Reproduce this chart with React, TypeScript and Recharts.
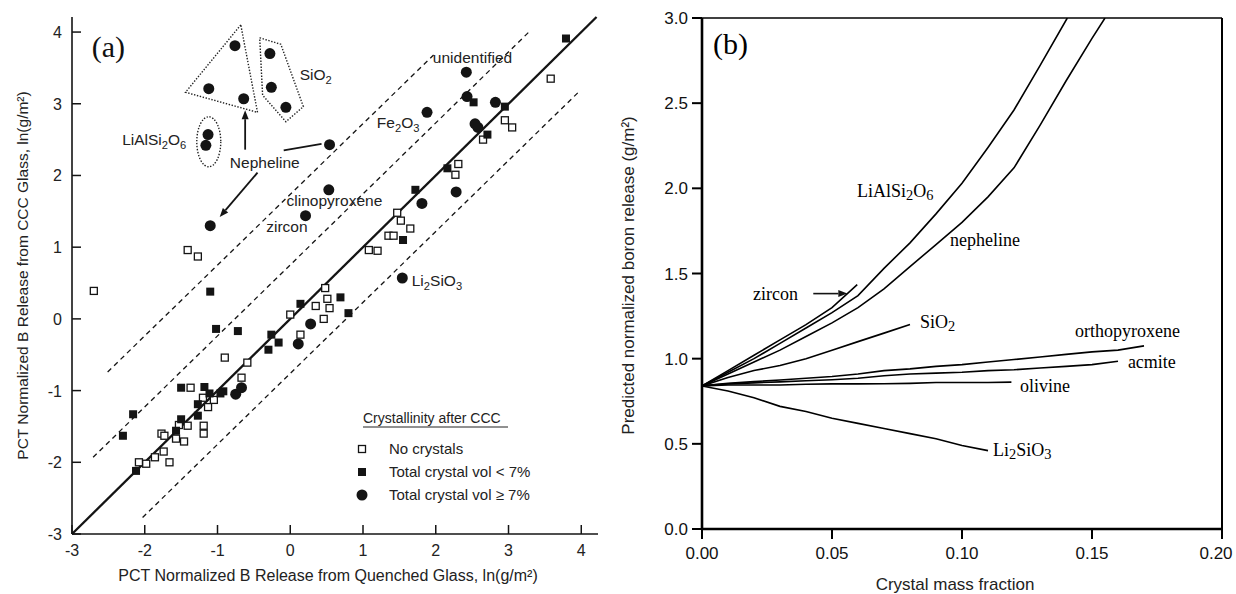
import React from 'react';
import {
  ScatterChart, Scatter, LineChart, Line, XAxis, YAxis,
  ReferenceLine, ReferenceDot, Legend,
} from 'recharts';

document.body.style.margin = '0';

const SANS = '"Liberation Sans", Arial, Helvetica, sans-serif';
const SERIF = '"Liberation Serif", "Times New Roman", serif';
const INK = '#141414';

// ---------- panel (a): PCT quenched vs CCC ----------
const ticksA = [-3, -2, -1, 0, 1, 2, 3, 4];

const noCrystals: [number, number][] = [
  [-2.70, 0.39], [-1.41, 0.96], [-1.27, 0.87], [-0.90, -0.54], [-0.59, -0.61],
  [-1.37, -0.96], [-1.20, -1.10], [-1.05, -1.13], [-1.13, -1.23], [-0.67, -0.82],
  [-1.41, -1.49], [-1.53, -1.48], [-1.19, -1.49], [-1.19, -1.60], [-1.77, -1.60],
  [-1.73, -1.63], [-1.57, -1.67], [-1.46, -1.71], [-1.74, -1.85], [-1.86, -1.93],
  [-1.66, -2.00], [-2.08, -2.00], [-1.98, -2.02], [0.00, 0.06], [0.14, -0.22],
  [0.35, 0.18], [0.46, 0.00], [0.48, 0.43], [0.51, 0.28], [0.54, 0.15],
  [1.08, 0.96], [1.20, 0.95], [1.35, 1.16], [1.42, 1.16], [1.47, 1.48],
  [1.52, 1.37], [1.65, 1.26], [2.27, 2.01], [2.31, 2.16], [2.65, 2.50],
  [2.95, 2.77], [3.05, 2.67], [3.58, 3.35],
];
const lowCrystal: [number, number][] = [
  [-1.10, 0.38], [-1.02, -0.14], [-0.72, -0.17], [-0.26, -0.22], [-0.16, -0.33],
  [-0.30, -0.43], [-1.50, -0.96], [-1.18, -0.95], [-1.11, -1.04], [-0.96, -1.04],
  [-0.92, -1.01], [-1.27, -1.19], [-1.27, -1.35], [-1.50, -1.40], [-1.57, -1.56],
  [-2.12, -2.12], [-2.16, -1.33], [-2.30, -1.63], [0.14, 0.21], [0.69, 0.30],
  [0.80, 0.08], [1.55, 1.10], [1.72, 1.80], [2.16, 2.10], [2.52, 3.02],
  [2.95, 2.96], [2.71, 2.57], [3.79, 3.91],
];
const highCrystal: [number, number][] = [
  [-0.76, 3.81], [-1.12, 3.21], [-0.64, 3.07], [-0.28, 3.70], [-0.26, 3.23],
  [-0.06, 2.95], [-1.13, 2.57], [-1.16, 2.42], [-1.10, 1.30], [0.54, 2.43],
  [0.53, 1.80], [0.21, 1.44], [2.42, 3.44], [2.43, 3.10], [2.82, 3.02],
  [1.88, 2.88], [2.54, 2.72], [2.58, 2.67], [2.28, 1.77], [1.81, 1.61],
  [1.54, 0.57], [0.28, -0.07], [0.11, -0.35], [-0.75, -1.05], [-0.67, -0.96],
];

const parityLine: [number, number][] = [[-3, -3], [4.21, 4.21]];
const dashedLines: [number, number][][] = [
  [[-2.51, -0.74], [1.97, 3.68]],
  [[-2.71, -1.93], [3.30, 4.02]],
  [[-2.03, -2.77], [3.97, 3.17]],
];
const nephelineGroup: [number, number][] = [[-0.68, 4.10], [-1.44, 3.16], [-0.45, 2.88], [-0.68, 4.10]];
const silicaGroup: [number, number][] = [[-0.42, 3.92], [-0.13, 3.83], [0.18, 2.96], [-0.06, 2.75], [-0.38, 3.12], [-0.42, 3.92]];
const lialsiGroup: [number, number] = [-1.12, 2.47];

const arrowsA: { from: [number, number]; to: [number, number]; head: boolean }[] = [
  { from: [-0.62, 2.36], to: [-0.62, 2.91], head: true },
  { from: [-0.09, 2.35], to: [0.43, 2.44], head: false },
  { from: [-0.45, 2.04], to: [-0.97, 1.42], head: true },
];
const labelsA: { x: number; y: number; text: string }[] = [
  { x: 0.13, y: 3.33, text: 'SiO2' },
  { x: 1.96, y: 3.57, text: 'unidentified' },
  { x: -2.31, y: 2.42, text: 'LiAlSi2O6' },
  { x: -0.83, y: 2.10, text: 'Nepheline' },
  { x: 1.19, y: 2.66, text: 'Fe2O3' },
  { x: -0.05, y: 1.57, text: 'clinopyroxene' },
  { x: -0.33, y: 1.21, text: 'zircon' },
  { x: 1.67, y: 0.46, text: 'Li2SiO3' },
];

// ---------- panel (b): predicted boron release ----------
const ticksBX = [0, 0.05, 0.1, 0.15, 0.2];
const ticksBY = [0, 0.5, 1, 1.5, 2, 2.5, 3];

const curveLiAlSi2O6: [number, number][] = [
  [0, 0.84], [0.01, 0.92], [0.02, 1.0], [0.03, 1.09], [0.04, 1.18], [0.05, 1.27], [0.06, 1.37],
  [0.07, 1.53], [0.08, 1.68], [0.09, 1.85], [0.1, 2.03], [0.11, 2.24], [0.12, 2.46], [0.13, 2.72], [0.1405, 3.0],
];
const curveNepheline: [number, number][] = [
  [0, 0.84], [0.01, 0.91], [0.02, 0.98], [0.03, 1.05], [0.04, 1.13], [0.05, 1.21], [0.06, 1.3],
  [0.07, 1.41], [0.08, 1.54], [0.09, 1.67], [0.1, 1.8], [0.11, 1.95], [0.12, 2.12], [0.13, 2.37],
  [0.14, 2.63], [0.15, 2.88], [0.155, 3.0],
];
const curveZircon: [number, number][] = [
  [0, 0.84], [0.01, 0.93], [0.02, 1.02], [0.03, 1.11], [0.04, 1.2], [0.05, 1.3], [0.0597, 1.435],
];
const curveSiO2: [number, number][] = [
  [0, 0.84], [0.01, 0.89], [0.02, 0.93], [0.03, 0.96], [0.04, 1.0], [0.05, 1.05], [0.06, 1.1], [0.07, 1.15], [0.08, 1.2],
];
const curveOrthopyroxene: [number, number][] = [
  [0, 0.84], [0.01, 0.855], [0.02, 0.865], [0.03, 0.875], [0.04, 0.885], [0.05, 0.895], [0.06, 0.91],
  [0.07, 0.93], [0.08, 0.94], [0.09, 0.955], [0.1, 0.965], [0.11, 0.98], [0.12, 0.995], [0.13, 1.01],
  [0.14, 1.025], [0.15, 1.04], [0.16, 1.05], [0.17, 1.075],
];
const curveAcmite: [number, number][] = [
  [0, 0.84], [0.01, 0.852], [0.02, 0.858], [0.03, 0.864], [0.04, 0.87], [0.05, 0.876], [0.06, 0.885],
  [0.07, 0.9], [0.08, 0.91], [0.09, 0.915], [0.1, 0.92], [0.11, 0.93], [0.12, 0.935], [0.13, 0.945],
  [0.14, 0.955], [0.15, 0.965], [0.16, 0.985],
];
const curveOlivine: [number, number][] = [
  [0, 0.84], [0.01, 0.845], [0.02, 0.845], [0.03, 0.845], [0.04, 0.85], [0.05, 0.852], [0.06, 0.852],
  [0.07, 0.853], [0.08, 0.855], [0.09, 0.86], [0.1, 0.86], [0.11, 0.86], [0.119, 0.862],
];
const curveLi2SiO3: [number, number][] = [
  [0, 0.84], [0.01, 0.81], [0.02, 0.77], [0.03, 0.72], [0.04, 0.69], [0.05, 0.65], [0.06, 0.62],
  [0.07, 0.59], [0.08, 0.56], [0.09, 0.53], [0.1, 0.49], [0.11, 0.46],
];
const curvesB = [
  { name: 'LiAlSi2O6', data: curveLiAlSi2O6 },
  { name: 'nepheline', data: curveNepheline },
  { name: 'zircon', data: curveZircon },
  { name: 'SiO2', data: curveSiO2 },
  { name: 'orthopyroxene', data: curveOrthopyroxene },
  { name: 'acmite', data: curveAcmite },
  { name: 'olivine', data: curveOlivine },
  { name: 'Li2SiO3', data: curveLi2SiO3 },
];
const labelsB: { x: number; y: number; text: string }[] = [
  { x: 0.0596, y: 1.95, text: 'LiAlSi2O6' },
  { x: 0.0954, y: 1.66, text: 'nepheline' },
  { x: 0.0196, y: 1.345, text: 'zircon' },
  { x: 0.0838, y: 1.18, text: 'SiO2' },
  { x: 0.1435, y: 1.127, text: 'orthopyroxene' },
  { x: 0.1638, y: 0.947, text: 'acmite' },
  { x: 0.1223, y: 0.805, text: 'olivine' },
  { x: 0.1119, y: 0.43, text: 'Li2SiO3' },
];
const zirconArrow: [number, number][] = [[0.0428, 1.382], [0.0559, 1.382]];

const toXY = (arr: [number, number][]) => arr.map(([x, y]) => ({ x, y }));

// chemical formula with subscripted digits
function chem(text: string, size: number, scale: number, shift: number) {
  const parts = text.split(/(\d+)/).filter(Boolean);
  let down = false;
  return parts.map((p, i) => {
    const isSub = /^\d+$/.test(p);
    let dy: number | undefined;
    if (isSub && !down) { dy = shift; down = true; }
    else if (!isSub && down) { dy = -shift; down = false; }
    return (
      <tspan key={i} dy={dy} fontSize={isSub ? size * scale : size}>{p}</tspan>
    );
  });
}

const openSquare = (p: any) => (
  <rect x={p.cx - 3.5} y={p.cy - 3.5} width={7} height={7} fill="#fff" stroke={INK} strokeWidth={1.3} />
);
const filledSquare = (p: any) => (
  <rect x={p.cx - 4} y={p.cy - 4} width={8} height={8} fill={INK} />
);
const filledCircle = (p: any) => <circle cx={p.cx} cy={p.cy} r={5.5} fill={INK} />;
const noShape = () => <g />;

const seriesA = [
  { name: 'No crystals', data: noCrystals, shape: openSquare },
  { name: 'Total crystal vol < 7%', data: lowCrystal, shape: filledSquare },
  { name: 'Total crystal vol \u2265 7%', data: highCrystal, shape: filledCircle },
];

const arrowShape = (head: boolean, width: number) => (p: any) => {
  const { x1, y1, x2, y2 } = p;
  const a = Math.atan2(y2 - y1, x2 - x1);
  const L = 9;
  const W = 3.5;
  const bx = x2 - L * Math.cos(a);
  const by = y2 - L * Math.sin(a);
  const pts = `${x2},${y2} ${bx + W * Math.sin(a)},${by - W * Math.cos(a)} ${bx - W * Math.sin(a)},${by + W * Math.cos(a)}`;
  return (
    <g>
      <line x1={x1} y1={y1} x2={head ? bx : x2} y2={head ? by : y2} stroke={INK} strokeWidth={width} />
      {head && <polygon points={pts} fill={INK} />}
    </g>
  );
};

// inward ticks for panel (a)
const tickBottomA = (p: any) => (
  <g>
    <line x1={p.x} y1={p.y} x2={p.x} y2={p.y - 9} stroke={INK} strokeWidth={1.5} />
    <text x={p.x} y={p.y + 22} textAnchor="middle" fontFamily={SANS} fontSize={16} fill="#222">{p.payload.value}</text>
  </g>
);
const tickLeftA = (p: any) => (
  <g>
    <line x1={p.x} y1={p.y} x2={p.x + 9} y2={p.y} stroke={INK} strokeWidth={1.5} />
    <text x={p.x - 10} y={p.y + 6} textAnchor="end" fontFamily={SANS} fontSize={16} fill="#222">{p.payload.value}</text>
  </g>
);
const tickTopA = (p: any) => (
  <line x1={p.x} y1={p.y} x2={p.x} y2={p.y + 8} stroke={INK} strokeWidth={1.5} />
);
const tickRightA = (p: any) => (
  <line x1={p.x} y1={p.y} x2={p.x - 8} y2={p.y} stroke={INK} strokeWidth={1.5} />
);

// bottom tick labels of panel (b); the last one is nudged left to stay on the page
const tickBottomB = (p: any) => {
  const last = p.payload.value === ticksBX[ticksBX.length - 1];
  return (
    <text x={last ? p.x - 6 : p.x} y={p.y} dy="0.71em" textAnchor="middle" fontFamily={SANS} fontSize={17} fill="#111">
      {Number(p.payload.value).toFixed(2)}
    </text>
  );
};

const AxisTitle = (props: any) => {
  const { viewBox, text, dx = 0, dy = 0, rotate, size, family } = props;
  const { x, y, width, height } = viewBox;
  if (rotate) {
    const cx = x + dx;
    const cy = y + height / 2 + dy;
    return (
      <text x={cx} y={cy} transform={`rotate(-90 ${cx} ${cy})`} textAnchor="middle" fontFamily={family} fontSize={size} fill="#222">{text}</text>
    );
  }
  return (
    <text x={x + width / 2 + dx} y={y + dy} textAnchor="middle" fontFamily={family} fontSize={size} fill="#222">{text}</text>
  );
};

const LegendA = () => (
  <svg width={220} height={112} style={{ overflow: 'visible', display: 'block' }}>
    <text x={13} y={23} fontFamily={SANS} fontSize={14} fill="#222">Crystallinity after CCC</text>
    <line x1={13} x2={158} y1={27} y2={27} stroke="#222" strokeWidth={1} />
    {seriesA.map((s, i) => {
      const base = 54 + i * 23;
      return (
        <g key={s.name}>
          {s.shape({ cx: 12, cy: base - 5 })}
          <text x={39} y={base} fontFamily={SANS} fontSize={15} fill="#222">{s.name}</text>
        </g>
      );
    })}
  </svg>
);

function PanelA() {
  const frame = { stroke: INK, strokeWidth: 1.6 };
  return (
    <ScatterChart width={620} height={594} margin={{ top: 17, right: 22, bottom: 30, left: 12 }}>
      <XAxis type="number" dataKey="x" domain={[-3, 4.23]} ticks={ticksA} interval={0} allowDataOverflow
        height={30} tickSize={0} tickMargin={0} tickLine={false} axisLine={frame} tick={tickBottomA}
        label={<AxisTitle text="PCT Normalized B Release from Quenched Glass, ln(g/m²)" dx={-7} dy={47} size={16} family={SANS} />} />
      <XAxis xAxisId="top" orientation="top" type="number" domain={[-3, 4.23]} ticks={ticksA} interval={0} allowDataOverflow
        height={0} tickSize={0} tickMargin={0} tickLine={false} axisLine={frame} tick={tickTopA} />
      <YAxis type="number" dataKey="y" domain={[-3, 4.21]} ticks={ticksA} interval={0} allowDataOverflow
        width={60} tickSize={0} tickMargin={0} tickLine={false} axisLine={frame} tick={tickLeftA}
        label={<AxisTitle text="PCT Normalized B Release from CCC Glass, ln(g/m²)" rotate dx={16} dy={0} size={15.5} family={SANS} />} />
      <YAxis yAxisId="right" orientation="right" type="number" domain={[-3, 4.21]} ticks={ticksA} interval={0} allowDataOverflow
        width={0} tickSize={0} tickMargin={0} tickLine={false} axisLine={frame} tick={tickRightA} />

      {dashedLines.map((seg, i) => (
        <ReferenceLine key={'d' + i} segment={toXY(seg)} stroke={INK} strokeWidth={1.3} strokeDasharray="5 4" ifOverflow="visible" />
      ))}
      <ReferenceLine segment={toXY(parityLine)} stroke={INK} strokeWidth={2.3} ifOverflow="visible" />

      <Scatter data={toXY(nephelineGroup)} line={{ stroke: '#222', strokeWidth: 1.4, strokeDasharray: '1.4 1.6' }}
        shape={noShape} legendType="none" isAnimationActive={false} />
      <Scatter data={toXY(silicaGroup)} line={{ stroke: '#222', strokeWidth: 1.4, strokeDasharray: '1.4 1.6' }}
        shape={noShape} legendType="none" isAnimationActive={false} />
      <ReferenceDot x={lialsiGroup[0]} y={lialsiGroup[1]} r={0} ifOverflow="visible"
        shape={(p: any) => <ellipse cx={p.cx} cy={p.cy} rx={12} ry={25} fill="none" stroke="#222" strokeWidth={1.4} strokeDasharray="1.4 1.6" />} />

      {arrowsA.map((a, i) => (
        <ReferenceLine key={'a' + i} segment={[{ x: a.from[0], y: a.from[1] }, { x: a.to[0], y: a.to[1] }]}
          ifOverflow="visible" shape={arrowShape(a.head, 1.8)} />
      ))}

      {seriesA.map((s) => (
        <Scatter key={s.name} name={s.name} data={toXY(s.data)} shape={s.shape} isAnimationActive={false} />
      ))}

      {labelsA.map((l) => (
        <ReferenceDot key={l.text} x={l.x} y={l.y} r={0} ifOverflow="visible"
          shape={(p: any) => (
            <text x={p.cx} y={p.cy} fontFamily={SANS} fontSize={15.5} fill="#222">{chem(l.text, 15.5, 0.72, 4)}</text>
          )} />
      ))}
      <ReferenceDot x={-2.73} y={3.65} r={0} ifOverflow="visible"
        shape={(p: any) => <text x={p.cx} y={p.cy} fontFamily={SERIF} fontSize={30} fill="#111">(a)</text>} />

      <Legend layout="vertical" align="center" verticalAlign="middle"
        wrapperStyle={{ left: 350, top: 400, width: 220, height: 112 }} content={() => <LegendA />} />
    </ScatterChart>
  );
}

function PanelB() {
  return (
    <LineChart width={616} height={594} margin={{ top: 18, right: 14, bottom: 35, left: 22 }}>
      <XAxis dataKey="x" type="number" domain={[0, 0.2]} ticks={ticksBX} interval={0} allowDataOverflow
        height={30} tickSize={10} tickMargin={8}
        axisLine={{ stroke: '#000', strokeWidth: 2.6 }} tickLine={{ stroke: '#000', strokeWidth: 2 }}
        tick={tickBottomB}
        label={<AxisTitle text="Crystal mass fraction" dx={-7} dy={61} size={17} family={SANS} />} />
      <YAxis type="number" domain={[0, 3]} ticks={ticksBY} interval={0} allowDataOverflow
        tickFormatter={(v: number) => v.toFixed(1)} width={60} tickSize={10} tickMargin={4}
        axisLine={{ stroke: '#000', strokeWidth: 2.6 }} tickLine={{ stroke: '#000', strokeWidth: 2 }}
        tick={{ fill: '#111', fontSize: 17, fontFamily: SANS }}
        label={<AxisTitle text="Predicted normalized boron release (g/m²)" rotate dx={-8} dy={2} size={17} family={SANS} />} />
      <ReferenceLine y={3} stroke="#000" strokeWidth={1.6} />
      <ReferenceLine x={0.2} stroke="#000" strokeWidth={2} />

      {curvesB.map((c) => (
        <Line key={c.name} name={c.name} data={toXY(c.data)} dataKey="y" type="linear" stroke="#000"
          strokeWidth={1.6} dot={false} isAnimationActive={false} />
      ))}

      <ReferenceLine segment={toXY(zirconArrow)} ifOverflow="visible" shape={arrowShape(true, 1.6)} />
      {labelsB.map((l) => (
        <ReferenceDot key={l.text} x={l.x} y={l.y} r={0} ifOverflow="visible"
          shape={(p: any) => (
            <text x={p.cx} y={p.cy} fontFamily={SERIF} fontSize={18} fill="#000">{chem(l.text, 18, 0.8, 3)}</text>
          )} />
      ))}
      <ReferenceDot x={0.0042} y={2.79} r={0} ifOverflow="visible"
        shape={(p: any) => <text x={p.cx} y={p.cy} fontFamily={SERIF} fontSize={30} fill="#000">(b)</text>} />
    </LineChart>
  );
}

export default function App() {
  return (
    <div style={{ position: 'relative', width: 1236, height: 594, background: '#fff', overflow: 'hidden' }}>
      <div style={{ position: 'absolute', left: 0, top: 0 }}>
        <PanelA />
      </div>
      <div style={{ position: 'absolute', left: 620, top: 0 }}>
        <PanelB />
      </div>
    </div>
  );
}
